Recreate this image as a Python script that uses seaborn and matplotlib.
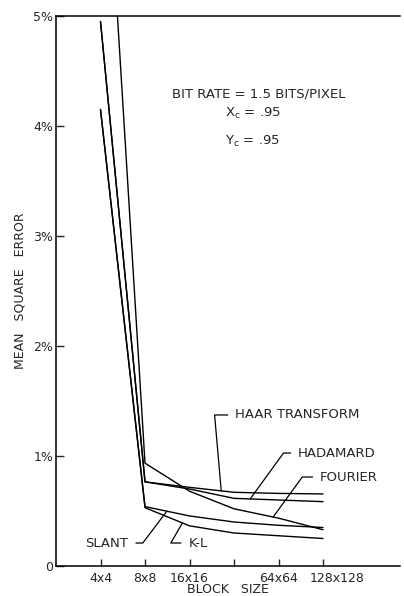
import numpy as np
import pandas as pd
import seaborn as sns
import matplotlib.pyplot as plt
import matplotlib.transforms as mtransforms

# values (mean square error in %)
block_size = [4, 8, 16, 32, 64, 128]
tick_labels = ["4x4", "8x8", "16x16", "", "64x64", "128x128"]
fourier = [7.5, 0.935, 0.68, 0.52, 0.435, 0.33]
haar = [4.95, 0.765, 0.715, 0.67, 0.66, 0.655]
hadamard = [4.95, 0.765, 0.70, 0.615, 0.60, 0.585]
slant = [4.15, 0.54, 0.455, 0.40, 0.37, 0.35]
kl = [4.15, 0.53, 0.365, 0.30, 0.275, 0.25]

series = {"FOURIER": fourier, "HAAR TRANSFORM": haar, "HADAMARD": hadamard,
          "SLANT": slant, "K-L": kl}

lx = np.log2(block_size)
df = pd.concat([pd.DataFrame({"x": lx, "mse": v, "transform": k})
                for k, v in series.items()], ignore_index=True)

sns.set_style("ticks")
plt.rcParams["font.family"] = ["DejaVu Sans"]

fig = plt.figure(figsize=(4.04, 5.96), dpi=100)
ax = fig.add_axes([56 / 404, 30 / 596, 344 / 404, 550 / 596])

sns.lineplot(data=df, x="x", y="mse", hue="transform",
             palette=["black"] * len(series), legend=False, lw=1.0, ax=ax)

ax.set_xlim(1.0, 8.73)
ax.set_ylim(0, 5)
ax.set_xticks(lx)
ax.set_xticklabels(tick_labels, fontsize=9)
ax.set_yticks(range(6))
ax.set_yticklabels(["0", "1%", "2%", "3%", "4%", "5%"], fontsize=9)
ax.tick_params(axis="x", direction="in", length=5, width=1, pad=4)
ax.tick_params(axis="y", direction="in", length=5.5, width=1, pad=2)
# the last block-size label sits a little right of its tick in the original
shift = mtransforms.ScaledTranslation(14 / 100, 0, fig.dpi_scale_trans)
last = ax.get_xticklabels()[-1]
last.set_transform(last.get_transform() + shift)
for s in ["left", "bottom", "top"]:
    ax.spines[s].set_linewidth(1.1)
    ax.spines[s].set_color("black")
ax.spines["right"].set_visible(False)

ax.set_xlabel("BLOCK   SIZE", fontsize=9, labelpad=-1)
ax.set_ylabel("MEAN   SQUARE   ERROR", fontsize=9, labelpad=5)

# parameter block
ax.text(0.337, 0.852, "BIT RATE = 1.5 BITS/PIXEL", transform=ax.transAxes,
        fontsize=9.5, ha="left", va="baseline")
ax.text(0.491, 0.817, r"X$_\mathregular{c}$ = .95", transform=ax.transAxes,
        fontsize=9.5, ha="left", va="baseline")
ax.text(0.491, 0.765, r"Y$_\mathregular{c}$ = .95", transform=ax.transAxes,
        fontsize=9.5, ha="left", va="baseline")

# curve labels with leader lines: (name, pointer x, text pos, ha, leader angle)
labels = [
    ("HAAR TRANSFORM", 4.713, (5.027, 1.373), "left", 95),
    ("HADAMARD", 5.363, (6.44, 1.027), "left", 54),
    ("FOURIER", 5.88, (6.933, 0.809), "left", 54),
    ("SLANT", 3.49, (2.628, 0.209), "right", 53),
    ("K-L", 3.84, (3.973, 0.209), "left", 60),
]
for name, px, txy, ha, ang in labels:
    py = np.interp(px, lx, series[name])
    ax.annotate(name, xy=(px, py), xytext=txy, fontsize=9.5, ha=ha, va="center",
                arrowprops=dict(arrowstyle="-", color="black", lw=0.9,
                                connectionstyle=f"angle,angleA=0,angleB={ang},rad=0",
                                relpos=(0 if ha == "left" else 1, 0.5),
                                shrinkA=3, shrinkB=0))

fig.savefig("out.png", dpi=100)
